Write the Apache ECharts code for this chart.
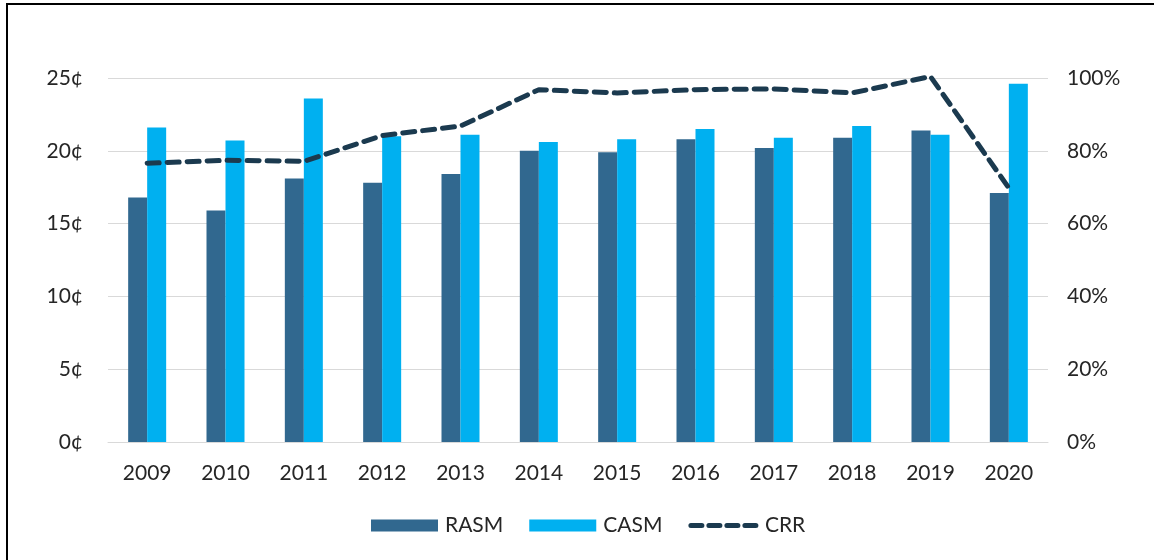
<!DOCTYPE html>
<html>
<head>
<meta charset="utf-8">
<script src="https://cdn.jsdelivr.net/npm/echarts@6/dist/echarts.min.js"></script>
<style>
  html, body { margin: 0; padding: 0; background: #fff; }
  #chart { width: 1154px; height: 560px; }
  #frame {
    position: absolute; left: 6px; top: 3px; width: 1148px; height: 557px;
    border-top: 2px solid #000; border-left: 2px solid #000;
    box-sizing: border-box; pointer-events: none;
  }
</style>
</head>
<body>
<div id="chart"></div>
<div id="frame"></div>
<script>
// 数据
const years = ['2009', '2010', '2011', '2012', '2013', '2014', '2015', '2016', '2017', '2018', '2019', '2020']
const rasm = [16.8, 15.9, 18.1, 17.8, 18.4, 20.0, 19.9, 20.8, 20.2, 20.9, 21.4, 17.1]
const casm = [21.6, 20.7, 23.6, 21.0, 21.1, 20.6, 20.8, 21.5, 20.9, 21.7, 21.1, 24.6]
const crr = [76.6, 77.4, 77.1, 84.2, 86.8, 96.8, 95.9, 96.8, 97.0, 95.9, 100.4, 69.8]

const font = 'Lato'
const textColor = '#262626'

const myChart = echarts.init(document.getElementById('chart'))

myChart.setOption({
  animation: false,
  textStyle: { fontFamily: font },
  legend: {
    left: 366,
    top: 510,
    itemGap: 26,
    itemWidth: 67,
    itemHeight: 12,
    textStyle: { fontSize: 21, color: textColor, fontFamily: font, padding: [0, 0, 0, 2] },
    data: [
      { name: 'RASM', icon: 'rect' },
      { name: 'CASM', icon: 'rect' },
      {
        name: 'CRR',
        itemStyle: { color: 'rgba(0,0,0,0)', borderWidth: 0 },
        lineStyle: { width: 5, type: [11, 7], cap: 'round', color: '#1b3a4f' }
      }
    ]
  },
  grid: {
    left: 108,
    right: 106,
    top: 78,
    bottom: 118
  },
  xAxis: {
    type: 'category',
    data: years,
    axisTick: { show: false },
    axisLine: { lineStyle: { color: '#d9d9d9', width: 1 } },
    axisLabel: { fontSize: 21, color: textColor, margin: 21, fontFamily: font }
  },
  yAxis: [
    {
      type: 'value',
      min: 0,
      max: 25,
      interval: 5,
      axisLabel: { formatter: '{value}¢', fontSize: 21, color: textColor, margin: 25, fontFamily: font },
      axisLine: { show: false },
      axisTick: { show: false },
      splitLine: { lineStyle: { color: '#d9d9d9', width: 1 } }
    },
    {
      type: 'value',
      min: 0,
      max: 100,
      interval: 20,
      axisLabel: { formatter: '{value}%', fontSize: 21, color: textColor, margin: 19, fontFamily: font },
      axisLine: { show: false },
      axisTick: { show: false },
      splitLine: { show: false }
    }
  ],
  series: [
    {
      name: 'RASM',
      type: 'bar',
      data: rasm,
      barWidth: 19,
      barGap: '0%',
      itemStyle: { color: '#31688f' }
    },
    {
      name: 'CASM',
      type: 'bar',
      data: casm,
      barWidth: 19,
      itemStyle: { color: '#00b0f0' }
    },
    {
      name: 'CRR',
      type: 'line',
      yAxisIndex: 1,
      data: crr,
      symbol: 'none',
      clip: false,
      lineStyle: { color: '#1b3a4f', width: 5, type: [12, 8], cap: 'round' },
      itemStyle: { color: '#1b3a4f' },
      z: 5
    }
  ]
})

window.addEventListener('resize', () => {
  myChart.resize()
})
</script>
</body>
</html>
